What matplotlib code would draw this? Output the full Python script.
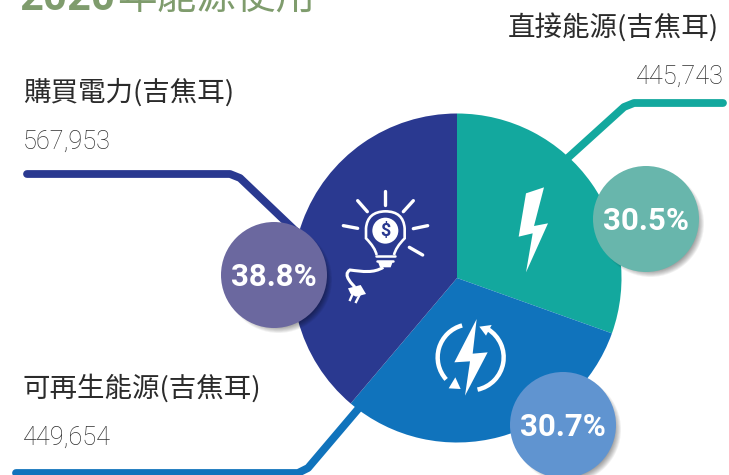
import numpy as np
import matplotlib
matplotlib.use("Agg")
import matplotlib.pyplot as plt
from matplotlib.patches import Circle, Polygon, Arc, PathPatch
from matplotlib.path import Path

# ---- data ----
categories = ["直接能源(吉焦耳)", "可再生能源(吉焦耳)", "購買電力(吉焦耳)"]
values = [445743, 449654, 567953]
percent_labels = ["30.5%", "30.7%", "38.8%"]
title_year = "2020"
title_rest = "年能源使用"

slice_colors = ["#13A89E", "#1073BC", "#2A3990"]
bubble_colors = ["#68B6AC", "#6094D0", "#6B689F"]
W, H = 729, 475
CJK = ["Noto Sans CJK TC", "DejaVu Sans"]

fig = plt.figure(figsize=(W / 100, H / 100), dpi=100, facecolor="white")
ax = fig.add_axes([0, 0, 1, 1])
ax.set_xlim(0, W)
ax.set_ylim(0, H)
ax.axis("off")
Y = lambda py: H - py


def leader(pts, color):
    xs, ys = zip(*[(x, Y(y)) for x, y in pts])
    ax.plot(xs, ys, color=color, lw=5.6, solid_capstyle="round",
            solid_joinstyle="round", zorder=1)


leader([(27, 174), (230, 174), (240, 178), (305, 240)], slice_colors[2])
leader([(723, 103), (634, 103), (624, 107), (560, 165)], slice_colors[0])
leader([(16, 473), (298, 473), (308, 468), (370, 395)], slice_colors[1])

ax.pie(values, colors=slice_colors, startangle=90, counterclock=False,
       center=(457, Y(278)), radius=164.5, frame=True,
       wedgeprops=dict(linewidth=0, zorder=2))
ax.set_xlim(0, W)
ax.set_ylim(0, H)
ax.set_aspect("auto")
ax.axis("off")

# ---- bubbles ----
bubbles = [(646, 219), (563, 425), (274, 275)]
for (cx, cy), col, lab in zip(bubbles, bubble_colors, percent_labels):
    for k in range(8):
        ax.add_patch(Circle((cx + 4.5, Y(cy) - 4.5), 53.5 - k * 0.9, fc="#000000",
                            alpha=0.055, lw=0, zorder=5))
    ax.add_patch(Circle((cx, Y(cy)), 53, fc=col, lw=0, zorder=6))
    ax.text(cx, Y(cy) - 1.5, lab, color="white", fontsize=22.5, family="Roboto",
            weight="bold", ha="center", va="center", zorder=7)

# ---- texts ----
tkw = dict(color="#2b2b2b", family=CJK, va="baseline", zorder=8)
ax.text(23, Y(101), categories[2], fontsize=19.8, **tkw)
ax.text(23, Y(397), categories[1], fontsize=19.8, **tkw)
ax.text(508, Y(36), categories[0], fontsize=19.8, **tkw)
nkw = dict(color="#2e2e2e", family="Roboto", weight="light", fontsize=18.2, va="baseline", zorder=8)
ax.text(23, Y(149), f"{values[2]:,}", **nkw)
ax.text(23, Y(445), f"{values[1]:,}", **nkw)
ax.text(636, Y(84), f"{values[0]:,}", **nkw)

title_col = "#7F9C6D"
ax.text(20, Y(10), title_year, color=title_col, family="Roboto", weight="bold",
        fontsize=30, va="baseline")
ax.text(117, Y(9), title_rest, color=title_col, family=CJK, fontsize=28.5,
        va="baseline")

# ---- icons ----
Z = 4
# direct-energy bolt
zx = lambda x: 420 + x / 3
zy = lambda y: Y(170 + y / 3)
bolt = [(372, 52), (318, 70), (296, 200), (338, 190), (318, 307), (384, 160), (342, 168)]
ax.add_patch(Polygon([(zx(x), zy(y)) for x, y in bolt], fc="white", lw=0, zorder=Z))

# renewable bolt
bolt2 = [(170, 447), (103, 577), (150, 574), (135, 677), (203, 547), (158, 551)]
ax.add_patch(Polygon([(zx(x), zy(y)) for x, y in bolt2], fc="white", lw=0, zorder=Z))
cxr, cyr, rr = zx(152), zy(562), 33
ax.add_patch(Arc((cxr, cyr), 2 * rr, 2 * rr, theta1=-78, theta2=58, color="white", lw=3.2, zorder=Z))
ax.add_patch(Arc((cxr, cyr), 2 * rr, 2 * rr, theta1=105, theta2=222, color="white", lw=3.2, zorder=Z))
ax.add_patch(Polygon([(zx(x), zy(y)) for x, y in [(178, 470), (215, 465), (198, 497)]],
                     fc="white", lw=0, zorder=Z))
ax.add_patch(Polygon([(zx(x), zy(y)) for x, y in [(122, 657), (86, 655), (106, 622)]],
                     fc="white", lw=0, zorder=Z))

# light bulb
bx = lambda x: 330 + x / 3
by = lambda y: Y(170 + y / 3)
rays = [((166, 62), (166, 104)), ((83, 92), (112, 125)), ((250, 92), (220, 125)),
        ((40, 167), (83, 175)), ((293, 167), (250, 176)), ((238, 232), (278, 255))]
for a, b in rays:
    ax.plot([bx(a[0]), bx(b[0])], [by(a[1]), by(b[1])], color="white", lw=2.4,
            solid_capstyle="round", zorder=Z)
bulb = [(140, 255), (135, 232), (108, 205), (108, 175), (112, 125), (166, 124),
        (220, 124), (224, 175), (224, 205), (197, 232), (192, 255)]
codes = [Path.MOVETO, Path.CURVE3, Path.CURVE3, Path.LINETO, Path.CURVE3, Path.CURVE3,
         Path.CURVE3, Path.CURVE3, Path.LINETO, Path.CURVE3, Path.CURVE3]
ax.add_patch(PathPatch(Path([(bx(x), by(y)) for x, y in bulb], codes), fc="none",
                       ec="white", lw=1.9, zorder=Z))
ax.add_patch(Circle((bx(166), by(182)), 13, fc="white", lw=0, zorder=Z))
ax.text(bx(166), by(182), "$", color=slice_colors[2], fontsize=13, weight="bold",
        family="Roboto", ha="center", va="center", zorder=Z + 0.5)
for ya, xa, xb in [(258, 138, 194), (272, 142, 190)]:
    ax.plot([bx(xa), bx(xb)], [by(ya), by(ya)], color="white", lw=1.8,
            solid_capstyle="round", zorder=Z)
base = [(144, 276), (150, 292), (182, 292), (188, 276)]
ax.add_patch(Polygon([(bx(x), by(y)) for x, y in base], fc="white", lw=0, zorder=Z))
cord = [(160, 292), (130, 310), (100, 305), (60, 300), (35, 315), (70, 345), (75, 352)]
cc = [Path.MOVETO, Path.CURVE4, Path.CURVE4, Path.CURVE4, Path.CURVE4, Path.CURVE4, Path.CURVE4]
ax.add_patch(PathPatch(Path([(bx(x), by(y)) for x, y in cord], cc), fc="none", ec="white",
                       lw=2.2, zorder=Z))
plug = [(54, 355), (92, 345), (108, 372), (78, 380), (62, 372)]
ax.add_patch(Polygon([(bx(x), by(y)) for x, y in plug], fc="white", lw=0, zorder=Z))
for a, b in [((68, 372), (60, 390)), ((88, 376), (78, 396))]:
    ax.plot([bx(a[0]), bx(b[0])], [by(a[1]), by(b[1])], color="white", lw=1.7, zorder=Z)

fig.savefig("out.png", dpi=100, facecolor="white")
